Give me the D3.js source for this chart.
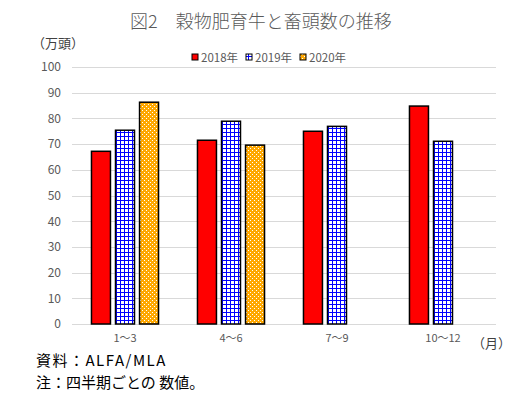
<!DOCTYPE html>
<html>
<head>
<meta charset="utf-8">
<script src="https://cdn.jsdelivr.net/npm/d3@7"></script>
<style>
  body { margin: 0; background: #fff; }
  text { font-family: "Noto Sans CJK JP", "Noto Sans", sans-serif; }
</style>
</head>
<body>
<div id="chart"></div>
<script>
var quarters = ["1～3", "4～6", "7～9", "10～12"];
var years = ["2018年", "2019年", "2020年"];
var v2018 = [67.2, 71.5, 75.0, 84.8];
var v2019 = [75.4, 78.9, 76.9, 71.1];
var v2020 = [86.3, 69.6, null, null];
var yTicks = [0, 10, 20, 30, 40, 50, 60, 70, 80, 90, 100];

var width = 514, height = 397;
var svg = d3.select("#chart").append("svg")
  .attr("width", width).attr("height", height);

var defs = svg.append("defs");
// blue grid
var pg = defs.append("pattern").attr("id", "grid")
  .attr("patternUnits", "userSpaceOnUse").attr("width", 4).attr("height", 4);
pg.append("rect").attr("width", 4).attr("height", 4).attr("fill", "#fff");
pg.append("rect").attr("width", 4).attr("height", 1).attr("fill", "#0000ff");
pg.append("rect").attr("width", 1).attr("height", 4).attr("fill", "#0000ff");
// orange dotted
var po = defs.append("pattern").attr("id", "dots")
  .attr("patternUnits", "userSpaceOnUse").attr("width", 4).attr("height", 4);
po.append("rect").attr("width", 4).attr("height", 4).attr("fill", "#ffa800");
po.append("rect").attr("x", 0).attr("y", 0).attr("width", 1).attr("height", 1).attr("fill", "#fff");
po.append("rect").attr("x", 2).attr("y", 2).attr("width", 1).attr("height", 1).attr("fill", "#fff");

var fills = ["#ff0000", "url(#grid)", "url(#dots)"];
var seriesVals = [v2018, v2019, v2020];

var x0 = d3.scaleBand().domain(quarters).range([72, 496]);
var x1 = d3.scaleBand().domain(years).range([0, x0.bandwidth()])
  .paddingInner(0.21).paddingOuter(0.81);
var y = d3.scaleLinear().domain([0, 100]).range([324, 67]);

// title
svg.append("text").attr("x", 130).attr("y", 28)
  .attr("font-size", 18).attr("font-weight", 300).attr("fill", "#595959")
  .text("図2　穀物肥育牛と畜頭数の推移");

// gridlines
svg.append("g").selectAll("line").data(yTicks).join("line")
  .attr("x1", 72).attr("x2", 496)
  .attr("y1", function(d){ return Math.round(y(d)) + 0.5; })
  .attr("y2", function(d){ return Math.round(y(d)) + 0.5; })
  .attr("stroke", "#d9d9d9").attr("stroke-width", 1);

// y axis labels
var yAxis = d3.axisLeft(y).tickValues(yTicks).tickSize(0).tickPadding(0);
var ga = svg.append("g").attr("transform", "translate(61,0)").call(yAxis);
ga.select(".domain").remove();
ga.selectAll("text").attr("font-size", 12).attr("fill", "#595959")
  .style("font-family", "'Noto Sans CJK JP', sans-serif");

svg.append("text").attr("x", 32).attr("y", 48).attr("font-size", 13)
  .attr("fill", "#404040").text("（万頭）");

// bars
var groups = svg.append("g").selectAll("g").data(quarters).join("g")
  .attr("transform", function(d){ return "translate(" + x0(d) + ",0)"; });
groups.each(function(q, qi) {
  var g = d3.select(this);
  years.forEach(function(yr, si) {
    var v = seriesVals[si][qi];
    if (v == null) return;
    g.append("rect")
      .attr("x", x1(yr)).attr("width", x1.bandwidth())
      .attr("y", y(v)).attr("height", y(0) - y(v))
      .attr("fill", fills[si]).attr("stroke", "#000").attr("stroke-width", 1.5);
  });
});

// x labels
var xAxis = d3.axisBottom(x0).tickSize(0).tickPadding(0);
var gx = svg.append("g").attr("transform", "translate(0,334)").call(xAxis);
gx.select(".domain").remove();
gx.selectAll("text").attr("font-size", 11).attr("fill", "#595959")
  .style("font-family", "'Noto Sans CJK JP', sans-serif");

svg.append("text").attr("x", 472).attr("y", 348).attr("font-size", 13)
  .attr("fill", "#404040").text("（月）");

// legend
var lx = [192, 246, 300];
years.forEach(function(yr, i) {
  svg.append("rect").attr("x", lx[i]).attr("y", 54).attr("width", 6).attr("height", 6)
    .attr("fill", fills[i]).attr("stroke", "#000").attr("stroke-width", 1);
  svg.append("text").attr("x", lx[i] + 9).attr("y", 61.5).attr("font-size", 11.5)
    .attr("fill", "#595959").text(yr);
});

// notes
svg.append("text").attr("x", 36).attr("y", 366).attr("font-size", 15)
  .attr("letter-spacing", 1.5).attr("fill", "#000").text("資料：ALFA/MLA");
svg.append("text").attr("x", 36).attr("y", 388).attr("font-size", 15)
  .attr("fill", "#000").text("注：四半期ごとの 数値。");
</script>
</body>
</html>
